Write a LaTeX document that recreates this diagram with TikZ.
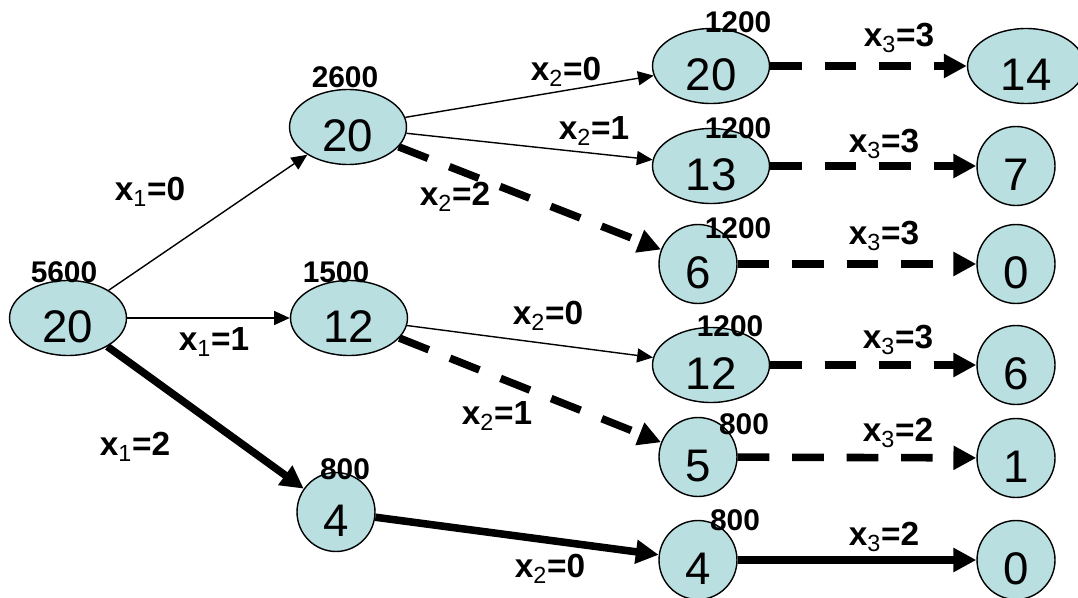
\documentclass[tikz,border=0pt]{standalone}
\usepackage{fontspec}
\setmainfont{Liberation Sans}
\usepackage{xcolor}
\usetikzlibrary{shapes.geometric,arrows.meta}
\definecolor{stagefill}{RGB}{185,223,225}
\newcommand{\dec}[2]{x\textsubscript{\normalfont #1}=#2}

\begin{document}
\begin{tikzpicture}[x=0.02cm, y=-0.02cm,
  st/.style={ellipse, draw=black, line width=0.8pt, fill=stagefill,
             minimum width=2.34cm, minimum height=1.5cm, inner sep=0pt,
             text height=27.6pt, text depth=0pt,
             font=\fontsize{26}{26}\selectfont},
  rnd/.style={st, minimum width=1.56cm, minimum height=1.58cm},
  cost/.style={font=\bfseries\fontsize{17}{17}\selectfont, inner sep=0pt},
  lab/.style={font=\bfseries\fontsize{19}{19}\selectfont, inner sep=0pt},
  arr/.style={-{Triangle[length=9pt,width=8pt]}, line width=0.8pt},
  best/.style={-{Triangle[length=13pt,width=13pt]}, line width=4.3pt},
  alt/.style={best, dash pattern=on 18pt off 13pt},
]
\useasboundingbox (0,0) rectangle (1078,598);

% stages
\node[st]  (r)  at (68,318)  {20};
\node[st]  (a1) at (348,127) {20};
\node[st]  (a2) at (349,318) {12};
\node[rnd] (a3) at (336,512) {4};
\node[st]  (b1) at (711,66)  {20};
\node[st]  (b2) at (711,166) {13};
\node[rnd] (b3) at (698,264) {6};
\node[st]  (b4) at (711,365) {12};
\node[rnd] (b5) at (698,457) {5};
\node[rnd] (b6) at (698,560) {4};
\node[st]  (c1) at (1026,66) {14};
\node[rnd] (c2) at (1016,166) {7};
\node[rnd] (c3) at (1016,264) {0};
\node[rnd] (c4) at (1016,365) {6};
\node[rnd] (c5) at (1016,458) {1};
\node[rnd] (c6) at (1016,560) {0};

% costs
\node[cost] (kr)  at (64,272)  {5600};
\node[cost] (ka1) at (345,77)  {2600};
\node[cost] (ka2) at (336,272) {1500};
\node[cost] (ka3) at (345,469) {800};
\node[cost] (kb1) at (738,22)  {1200};
\node[cost] (kb2) at (738,128) {1200};
\node[cost] (kb3) at (738,228) {1200};
\node[cost] (kb4) at (730,326) {1200};
\node[cost] (kb5) at (744,424) {800};
\node[cost] (kb6) at (735,520) {800};

% decisions
\draw[arr]  (r) -- (a1);
\draw[arr]  (r) -- (a2);
\draw[best] (r) -- (a3);
\draw[arr]  (a1) -- (b1);
\draw[arr]  (a1) -- (b2);
\draw[alt]  (a1) -- (b3);
\draw[arr]  (a2) -- (b4);
\draw[alt]  (a2) -- (b5);
\draw[best] (a3) -- (b6);
\draw[alt]  (b1) -- (c1);
\draw[alt]  (b2) -- (c2);
\draw[alt]  (b3) -- (c3);
\draw[alt]  (b4) -- (c4);
\draw[alt]  (b5) -- (c5);
\draw[best] (b6) -- (c6);

\node[lab] (l1) at (150,192) {\dec{1}{0}};
\node[lab] (l2) at (214,342) {\dec{1}{1}};
\node[lab] (l3) at (135,447) {\dec{1}{2}};
\node[lab] (l4) at (566,72)  {\dec{2}{0}};
\node[lab] (l5) at (594,131) {\dec{2}{1}};
\node[lab] (l6) at (455,197) {\dec{2}{2}};
\node[lab] (l7) at (548,316) {\dec{2}{0}};
\node[lab] (l8) at (497,416) {\dec{2}{1}};
\node[lab] (l9) at (550,569) {\dec{2}{0}};
\node[lab] (m1) at (899,38)  {\dec{3}{3}};
\node[lab] (m2) at (884,144) {\dec{3}{3}};
\node[lab] (m3) at (884,236) {\dec{3}{3}};
\node[lab] (m4) at (898,340) {\dec{3}{3}};
\node[lab] (m5) at (898,433) {\dec{3}{2}};
\node[lab] (m6) at (884,537) {\dec{3}{2}};
\end{tikzpicture}
\end{document}
